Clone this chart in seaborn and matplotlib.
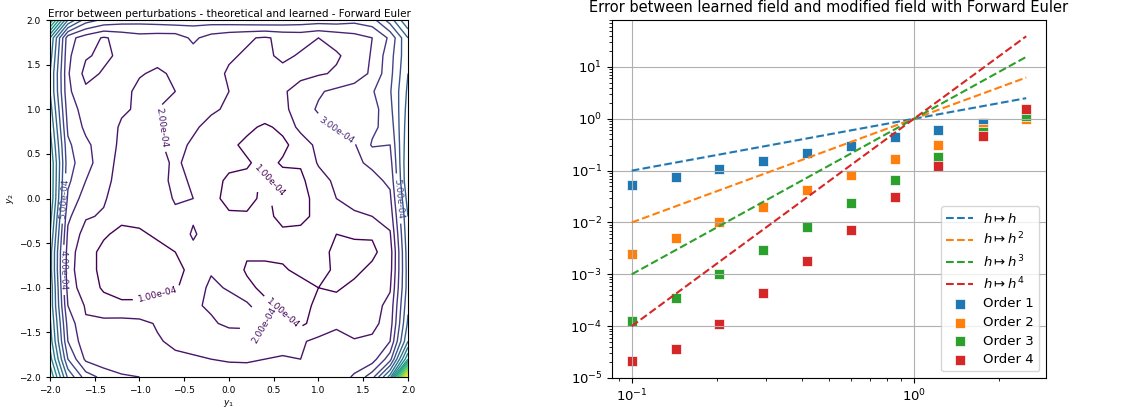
import numpy as np
import pandas as pd
import matplotlib
matplotlib.use("Agg")
from matplotlib import pyplot as plt
import seaborn as sns

# ---------------------------------------------------------------
# left panel : error field on a 21 x 21 grid (values in 1e-4)
# rows go from y2 = 2 (top) to y2 = -2 (bottom)
# ---------------------------------------------------------------
y1_grid = [-2.0, -1.8, -1.6, -1.4, -1.2, -1.0, -0.8, -0.6, -0.4, -0.2, 0.0,
           0.2, 0.4, 0.6, 0.8, 1.0, 1.2, 1.4, 1.6, 1.8, 2.0]
y2_grid = [2.0, 1.8, 1.6, 1.4, 1.2, 1.0, 0.8, 0.6, 0.4, 0.2, 0.0,
           -0.2, -0.4, -0.6, -0.8, -1.0, -1.2, -1.4, -1.6, -1.8, -2.0]
err_grid = [
    [14.0, 8.0, 5.5, 4.8, 4.5, 4.4, 4.5, 4.6, 4.4, 4.5, 4.6, 4.7, 4.8, 4.7, 4.6, 4.5, 4.5, 4.3, 4.6, 6.5, 9.0],
    [9.0, 3.4, 2.5, 1.9, 2.3, 2.6, 2.5, 2.5, 3.2, 2.6, 2.3, 2.1, 1.9, 2.2, 2.3, 2.0, 2.3, 2.6, 3.0, 4.2, 7.0],
    [8.5, 3.2, 2.1, 1.8, 2.2, 2.4, 2.4, 2.4, 2.6, 2.4, 2.1, 1.9, 1.8, 2.2, 1.9, 1.8, 1.9, 2.3, 3.1, 4.6, 6.8],
    [8.0, 3.1, 1.7, 2.1, 2.5, 2.1, 1.8, 2.2, 2.4, 2.3, 1.9, 1.7, 1.6, 1.7, 1.8, 1.9, 2.1, 2.4, 3.2, 4.7, 7.0],
    [8.0, 3.2, 2.2, 2.2, 2.4, 1.7, 1.5, 2.0, 2.4, 2.3, 2.0, 1.8, 1.7, 1.9, 2.3, 2.9, 3.2, 3.5, 3.9, 4.9, 7.2],
    [8.5, 3.5, 2.6, 2.3, 2.1, 1.9, 2.0, 2.2, 2.3, 2.1, 1.9, 1.8, 1.6, 1.7, 2.6, 3.1, 3.4, 3.2, 3.6, 4.7, 7.4],
    [9.0, 3.8, 2.8, 2.4, 1.9, 1.7, 1.9, 2.3, 2.1, 1.8, 1.5, 1.2, 0.85, 1.2, 2.3, 2.7, 3.1, 3.2, 3.8, 4.4, 7.6],
    [9.5, 4.2, 3.2, 2.5, 1.8, 1.6, 1.9, 2.2, 1.9, 1.6, 1.2, 0.8, 0.6, 0.8, 1.4, 2.3, 2.6, 2.9, 4.1, 4.0, 7.8],
    [10.0, 4.4, 3.4, 2.4, 1.7, 1.5, 1.8, 2.1, 1.8, 1.4, 1.2, 1.1, 0.7, 1.1, 1.1, 2.1, 2.4, 2.8, 3.2, 3.6, 8.0],
    [10.0, 4.2, 3.0, 2.3, 1.6, 1.4, 1.7, 2.2, 1.9, 1.3, 0.85, 0.8, 1.1, 0.7, 0.8, 1.6, 2.2, 2.5, 2.7, 3.2, 8.0],
    [10.0, 3.8, 2.5, 2.1, 1.5, 1.3, 1.5, 2.1, 2.0, 1.2, 0.8, 0.75, 1.2, 0.6, 0.7, 1.3, 2.0, 2.2, 2.3, 2.8, 7.5],
    [9.5, 3.2, 2.1, 1.9, 1.2, 1.2, 1.3, 1.8, 1.9, 1.3, 1.1, 1.1, 1.3, 0.7, 0.8, 1.2, 1.6, 1.9, 2.0, 2.4, 7.0],
    [9.0, 2.8, 1.6, 1.1, 0.8, 0.9, 1.1, 1.5, 2.1, 1.6, 1.3, 1.2, 1.4, 1.2, 1.2, 1.3, 1.0, 1.1, 1.1, 1.9, 6.8],
    [8.5, 2.5, 1.3, 0.8, 0.6, 0.6, 0.8, 1.0, 1.8, 1.7, 1.2, 1.1, 1.2, 1.2, 1.3, 1.3, 0.8, 0.75, 0.8, 1.5, 6.6],
    [8.5, 2.4, 1.3, 0.8, 0.5, 0.5, 0.6, 0.8, 1.2, 1.9, 1.5, 0.9, 0.8, 0.9, 1.2, 1.3, 0.85, 0.8, 1.2, 1.6, 6.5],
    [8.8, 2.6, 1.4, 0.9, 0.8, 0.8, 0.8, 0.9, 1.5, 2.2, 1.9, 1.2, 0.8, 0.7, 0.7, 1.0, 0.9, 1.2, 1.4, 1.9, 6.5],
    [8.8, 3.0, 1.9, 1.3, 1.1, 1.1, 1.3, 1.5, 1.8, 2.2, 2.4, 2.2, 1.2, 0.85, 0.7, 1.2, 1.3, 1.1, 1.6, 2.3, 6.8],
    [9.2, 3.6, 2.1, 2.3, 2.4, 2.3, 1.9, 1.6, 1.6, 1.8, 2.3, 2.4, 2.1, 1.2, 0.8, 1.4, 1.8, 1.4, 1.7, 2.5, 7.2],
    [9.6, 4.0, 2.3, 2.5, 2.6, 2.4, 2.1, 1.8, 1.7, 1.5, 1.1, 1.0, 1.3, 1.6, 1.9, 2.2, 2.4, 2.1, 2.2, 3.0, 8.0],
    [10.5, 5.0, 2.8, 2.3, 2.0, 2.1, 2.0, 2.2, 2.1, 2.0, 1.9, 1.9, 2.0, 2.1, 2.0, 2.4, 2.1, 2.6, 2.5, 4.6, 11.0],
    [12.0, 6.8, 4.5, 3.7, 3.2, 3.0, 2.9, 2.9, 2.7, 2.6, 2.5, 2.4, 2.6, 2.3, 2.1, 2.2, 2.6, 3.1, 4.6, 8.5, 21.0],
]

# ---------------------------------------------------------------
# right panel : convergence orders
# ---------------------------------------------------------------
h_values = [0.1, 0.143, 0.204, 0.292, 0.418, 0.598, 0.855, 1.22, 1.75, 2.5]
order_1 = [0.052, 0.074, 0.106, 0.153, 0.219, 0.30, 0.44, 0.61, 0.82, 1.1]
order_2 = [0.00243, 0.00492, 0.0100, 0.0203, 0.0418, 0.0824, 0.165, 0.316, 0.64, 0.97]
order_3 = [1.23e-4, 3.46e-4, 1.0e-3, 2.93e-3, 8.2e-3, 0.0240, 0.067, 0.183, 0.55, 1.12]
order_4 = [2.09e-5, 3.6e-5, 1.12e-4, 4.37e-4, 1.78e-3, 7.3e-3, 0.0307, 0.123, 0.457, 1.53]
orders = [order_1, order_2, order_3, order_4]
ref_labels = [r'$h\mapsto h$', r'$h\mapsto h^2$', r'$h\mapsto h^3$', r'$h\mapsto h^4$']
colors = ['#1f77b4', '#ff7f0e', '#2ca02c', '#d62728']

fig = plt.figure(figsize=(11.39, 4.11), dpi=100)

#=================================================================================
# Contour of the error between perturbations
#=================================================================================
ax1 = fig.add_axes([0.0439, 0.0827, 0.3143, 0.8686])
Y1, Y2 = np.meshgrid(y1_grid, y2_grid)
Z = np.array(err_grid) * 1e-4
levels = np.arange(1, 21) * 1e-4
cs = ax1.contour(Y1, Y2, Z, levels=levels, cmap='viridis', linewidths=1.0)
ax1.clabel(cs, levels[:5], inline=True, fontsize=6.5, fmt='%.2e')
ax1.set_xlim(-2, 2)
ax1.set_ylim(-2, 2)
ax1.set_xticks(np.arange(-2, 2.01, 0.5))
ax1.set_yticks(np.arange(-2, 2.01, 0.5))
ax1.tick_params(labelsize=6.5, length=3)
ax1.set_xlabel('$y_1$', fontsize=6.5, labelpad=2)
ax1.set_ylabel('$y_2$', fontsize=6.5, labelpad=2)
ax1.set_title('Error between perturbations - theoretical and learned - Forward Euler',
              fontsize=7.5, pad=2)

#=================================================================================
# Learned field vs modified field
#=================================================================================
ax2 = fig.add_axes([0.5373, 0.0803, 0.381, 0.871])
ax2.set_xscale('log')
ax2.set_yscale('log')
h = np.array(h_values)
for k in range(4):
    sns.lineplot(x=h, y=h ** (k + 1), ax=ax2, color=colors[k], linestyle='--',
                 linewidth=1.5, label=ref_labels[k], sort=False, errorbar=None)
for k in range(4):
    sns.scatterplot(x=h_values, y=orders[k], ax=ax2, color=colors[k], marker='s',
                    s=42, edgecolor='white', linewidth=0.5, label=f'Order {k + 1}')
ax2.set_ylim(bottom=1e-5)
ax2.set_xlabel('')
ax2.set_ylabel('')
ax2.grid(True, which='major', color='#b0b0b0', linewidth=0.8)
ax2.tick_params(labelsize=9.5)
ax2.legend(loc='lower right', fontsize=9.5, labelspacing=0.42)
ax2.set_title('Error between learned field and modified field with Forward Euler', fontsize=10.5)

plt.savefig('out.png', dpi=100)
